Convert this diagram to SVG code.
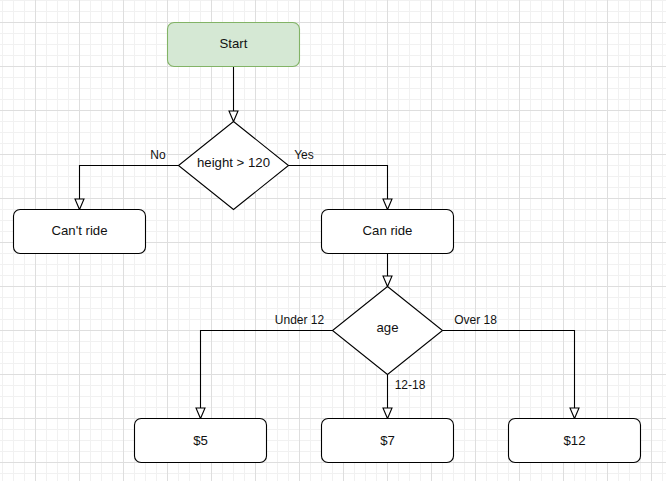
<svg xmlns="http://www.w3.org/2000/svg" width="666" height="481" viewBox="0 0 666 481">
  <style>
    .node { fill: #ffffff; stroke: #000000; stroke-width: 1.1; }
    .start { fill: #d5e8d4; stroke: #82b366; stroke-width: 1.1; }
    .edge { fill: none; stroke: #000000; stroke-width: 1.1; marker-end: url(#arrow); }
    .ntext { font-family: "Liberation Sans", Arial, sans-serif; font-size: 13.2px; fill: #111111; text-anchor: middle; }
    .ltext { font-family: "Liberation Sans", Arial, sans-serif; font-size: 12px; fill: #111111; text-anchor: middle; }
  </style>
  <defs>
    <pattern id="minor" patternUnits="userSpaceOnUse" x="2" y="0" width="11" height="11">
      <path d="M0.5 0 V11 M0 0.5 H11" fill="none" stroke="#f1f1f1" stroke-width="1"/>
    </pattern>
    <pattern id="major" patternUnits="userSpaceOnUse" x="35" y="22" width="44" height="44">
      <path d="M0.5 0 V44 M0 0.5 H44" fill="none" stroke="#dedede" stroke-width="1"/>
    </pattern>
    <marker id="arrow" markerUnits="userSpaceOnUse" viewBox="-1 -1 13 11" refX="10.5" refY="4.5" markerWidth="13" markerHeight="11" orient="auto">
      <path d="M0 0 L10.5 4.5 L0 9 Z" fill="#ffffff" stroke="#000000" stroke-width="1.1"/>
    </marker>
  </defs>
  <rect width="666" height="481" fill="#ffffff"/>
  <rect width="666" height="481" fill="url(#minor)"/>
  <rect width="666" height="481" fill="url(#major)"/>

  <g id="connectors">
    <path class="edge" d="M233.5 66.5 V121.5"/>
    <path class="edge" d="M178.5 165.5 H79.5 V209.5"/>
    <path class="edge" d="M288.5 165.5 H387.5 V209.5"/>
    <path class="edge" d="M387.5 253.5 V286.5"/>
    <path class="edge" d="M332.5 330.5 H200.5 V418.5"/>
    <path class="edge" d="M387.5 374.5 V418.5"/>
    <path class="edge" d="M442.5 330.5 H574.5 V418.5"/>
    <text class="ltext" x="158" y="159">No</text>
    <text class="ltext" x="304" y="159">Yes</text>
    <text class="ltext" x="299.5" y="323.5">Under 12</text>
    <text class="ltext" x="475.5" y="323.5">Over 18</text>
    <text class="ltext" x="410" y="389">12-18</text>
  </g>

  <g id="start">
    <rect class="start" x="167.5" y="22.5" width="132" height="44" rx="6.6" ry="6.6"/>
    <text class="ntext" x="233.5" y="48.3">Start</text>
  </g>
  <g id="height-check">
    <polygon class="node" points="233.5,121.5 288.5,165.5 233.5,209.5 178.5,165.5"/>
    <text class="ntext" x="233.5" y="166.8">height &gt; 120</text>
  </g>
  <g id="cant-ride">
    <rect class="node" x="13.5" y="209.5" width="132" height="44" rx="6.6" ry="6.6"/>
    <text class="ntext" x="79.5" y="235.3">Can't ride</text>
  </g>
  <g id="can-ride">
    <rect class="node" x="321.5" y="209.5" width="132" height="44" rx="6.6" ry="6.6"/>
    <text class="ntext" x="387.5" y="235.3">Can ride</text>
  </g>
  <g id="age-check">
    <polygon class="node" points="387.5,286.5 442.5,330.5 387.5,374.5 332.5,330.5"/>
    <text class="ntext" x="387.5" y="332">age</text>
  </g>
  <g id="price-5">
    <rect class="node" x="134.5" y="418.5" width="132" height="44" rx="6.6" ry="6.6"/>
    <text class="ntext" x="200.5" y="444.5">$5</text>
  </g>
  <g id="price-7">
    <rect class="node" x="321.5" y="418.5" width="132" height="44" rx="6.6" ry="6.6"/>
    <text class="ntext" x="387.5" y="444.5">$7</text>
  </g>
  <g id="price-12">
    <rect class="node" x="508.5" y="418.5" width="132" height="44" rx="6.6" ry="6.6"/>
    <text class="ntext" x="574.5" y="444.5">$12</text>
  </g>
</svg>
